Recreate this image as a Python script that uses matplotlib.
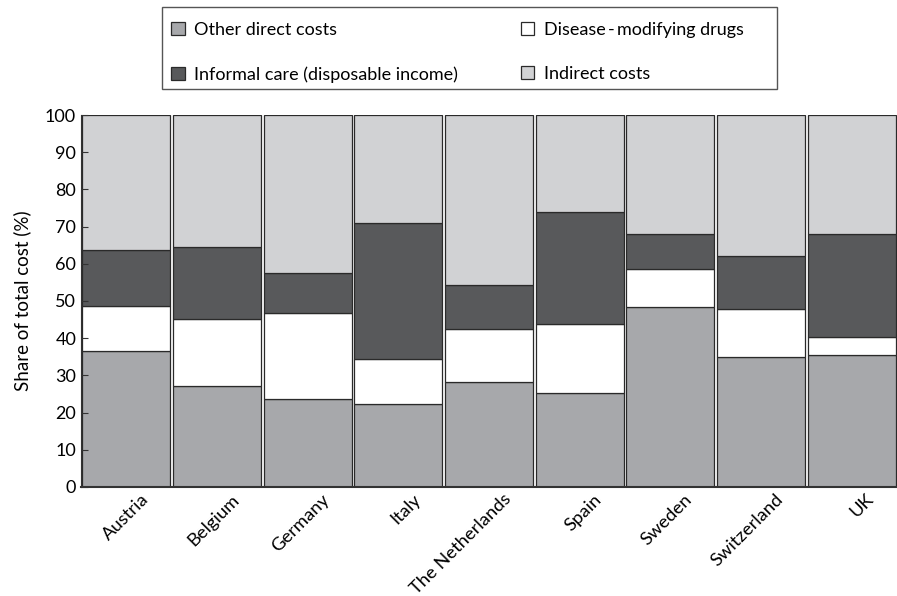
import matplotlib.pyplot as plt
import matplotlib.transforms as mtransforms
from matplotlib.patches import Rectangle
import numpy as np

plt.rcParams['font.family'] = ['Lato', 'DejaVu Sans']

countries = ["Austria", "Belgium", "Germany", "Italy", "The Netherlands",
             "Spain", "Sweden", "Switzerland", "UK"]
# cumulative tops (%)
other_top = [36.6, 27.2, 23.6, 22.3, 28.1, 25.2, 48.3, 35.0, 35.4]
dmd_top = [48.7, 45.2, 46.7, 34.5, 42.4, 43.8, 58.6, 47.8, 40.4]
informal_top = [63.6, 64.6, 57.6, 70.9, 54.2, 74.0, 68.1, 62.2, 68.1]

other = np.array(other_top)
dmd = np.array(dmd_top) - np.array(other_top)
informal = np.array(informal_top) - np.array(dmd_top)
indirect = 100 - np.array(informal_top)

W, H = 897, 596
fig = plt.figure(figsize=(W / 100, H / 100), dpi=100)
ax = fig.add_axes([0.0903, 0.183, 0.9097, 0.624])

x = np.arange(len(countries))
w = 0.97
ec = "#2a2a2a"
b1 = ax.bar(x, other, w, color="#a7a8ab", edgecolor=ec, linewidth=0.9)
b2 = ax.bar(x, dmd, w, bottom=other, color="white", edgecolor=ec, linewidth=0.9)
b3 = ax.bar(x, informal, w, bottom=other + dmd, color="#58595b", edgecolor=ec, linewidth=0.9)
b4 = ax.bar(x, indirect, w, bottom=other + dmd + informal, color="#d1d2d4", edgecolor=ec, linewidth=0.9)

ax.set_xlim(-0.5, len(countries) - 0.5)
ax.set_ylim(0, 100)
ax.set_yticks(range(0, 101, 10))
ax.tick_params(axis="y", direction="in", length=5, labelsize=13, color="#333333")
ax.tick_params(axis="x", length=0, labelsize=13.2, pad=3)
ax.set_xticks(x)
ax.set_xticklabels(countries, rotation=45, ha="right", rotation_mode="anchor")
shift = mtransforms.ScaledTranslation(10 / 72, 0, fig.dpi_scale_trans)
for lbl in ax.get_xticklabels():
    lbl.set_transform(lbl.get_transform() + shift)
ax.set_ylabel("Share of total cost (%)", fontsize=13.5, labelpad=10)
for s in ["top", "right"]:
    ax.spines[s].set_visible(False)
ax.spines["left"].set_color("#333333")
ax.spines["bottom"].set_color("#333333")
ax.spines["bottom"].set_linewidth(1.5)

# legend, frame drawn separately to match the box of the original
handles = [b1, b3, b2, b4]
labels = ["Other direct costs", "Informal care (disposable income)",
          "Disease\u2009-\u2009modifying drugs", "Indirect costs"]
leg = fig.legend(handles, labels, ncol=2, loc="upper left",
                 bbox_to_anchor=(162 / W, 1 - 13 / H), fontsize=13, frameon=False,
                 handlelength=0.75, handleheight=0.75, columnspacing=3.45,
                 labelspacing=1.55, borderpad=0, handletextpad=0.55)
fig.patches.append(Rectangle((162 / W, 1 - 89 / H), 615 / W, 82 / H,
                             transform=fig.transFigure, fill=False,
                             edgecolor="#555555", linewidth=1.0))

fig.savefig("out.png", dpi=100)
